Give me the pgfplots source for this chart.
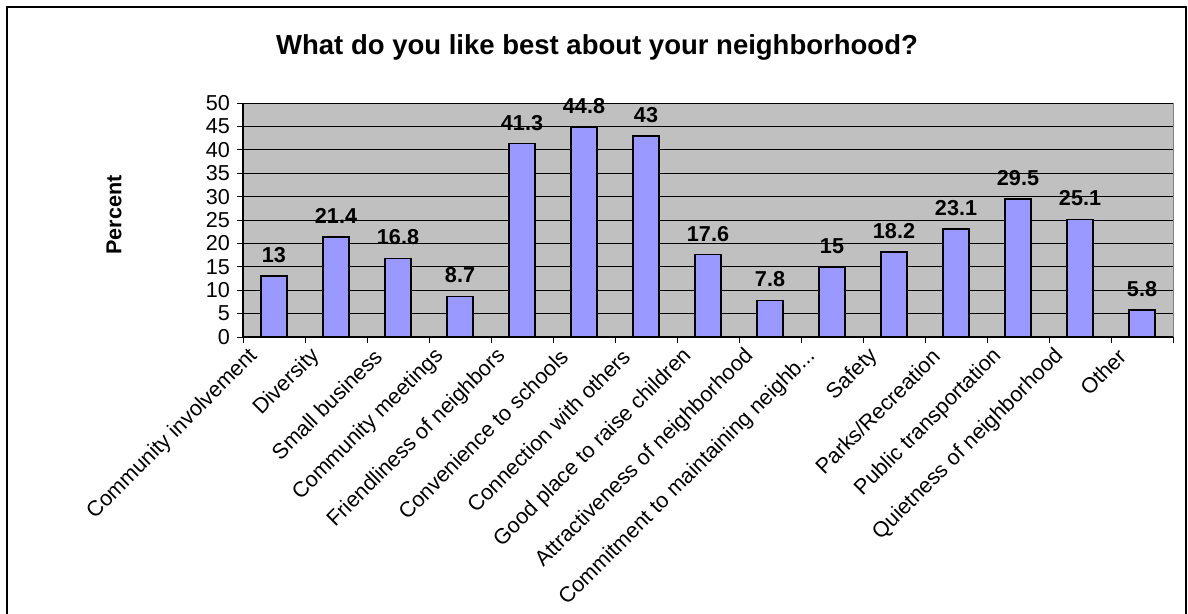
\documentclass[border=0pt]{standalone}
\usepackage{pgfplots}
\pgfplotsset{compat=1.18}
\usepackage{fontspec}
\setmainfont{Liberation Sans}
\definecolor{plotgray}{HTML}{C0C0C0}
\definecolor{barblue}{HTML}{9999FF}
\begin{document}
\begin{tikzpicture}
\path[use as bounding box] (0,0) rectangle (594pt,-307pt);
\draw[line width=1pt] (3.5pt,-310pt) -- (3.5pt,-3.5pt) -- (593pt,-3.5pt) -- (593pt,-310pt);
\node[anchor=base, font=\fontsize{13.75}{16}\selectfont\bfseries] at (298.5pt,-27.5pt) {What do you like best about your neighborhood?};
\node[rotate=90, font=\fontsize{10.8}{13}\selectfont\bfseries] at (57pt,-107.5pt) {Percent};
\begin{axis}[
 at={(121.5pt,-168.5pt)}, anchor=south west,
 scale only axis, width=465pt, height=117pt,
 xmin=-0.5, xmax=14.5, ymin=0, ymax=50,
 axis x line*=bottom, axis y line*=left,
 axis line style={black, line width=0.7pt, -},
 axis background/.style={fill=plotgray, draw=gray, line width=0.5pt},
 ytick={0,5,...,50},
 ymajorgrids, major grid style={black, line width=0.5pt},
 xtick={0,...,14},
 xticklabels={Community involvement, Diversity, Small business, Community meetings, Friendliness of neighbors, Convenience to schools, Connection with others, Good place to raise children, Attractiveness of neighborhood, {Commitment to maintaining neighb{.}{.}{.}}, Safety, Parks/Recreation, Public transportation, Quietness of neighborhood, Other},
 minor xtick={-0.5,0.5,...,14.5},
 major x tick style={draw=none},
 tick align=outside, tick style={black, line width=0.5pt},
 major tick length=3pt, minor tick length=3pt,
 /pgf/number format/assume math mode=true,
 tick label style={font=\fontsize{10.8}{13}\selectfont},
 xticklabel style={xshift=-7.5pt, yshift=-2.5pt, rotate=45, anchor=east},
 ybar, bar width=13pt,
 nodes near coords,
 nodes near coords style={font=\fontsize{10.8}{13}\selectfont\bfseries, yshift=3pt},
]
\addplot[fill=barblue, draw=black, line width=0.75pt] coordinates {
(0,13) (1,21.4) (2,16.8) (3,8.7) (4,41.3) (5,44.8) (6,43) (7,17.6) (8,7.8) (9,15) (10,18.2) (11,23.1) (12,29.5) (13,25.1) (14,5.8)
};
\end{axis}
\end{tikzpicture}
\end{document}
